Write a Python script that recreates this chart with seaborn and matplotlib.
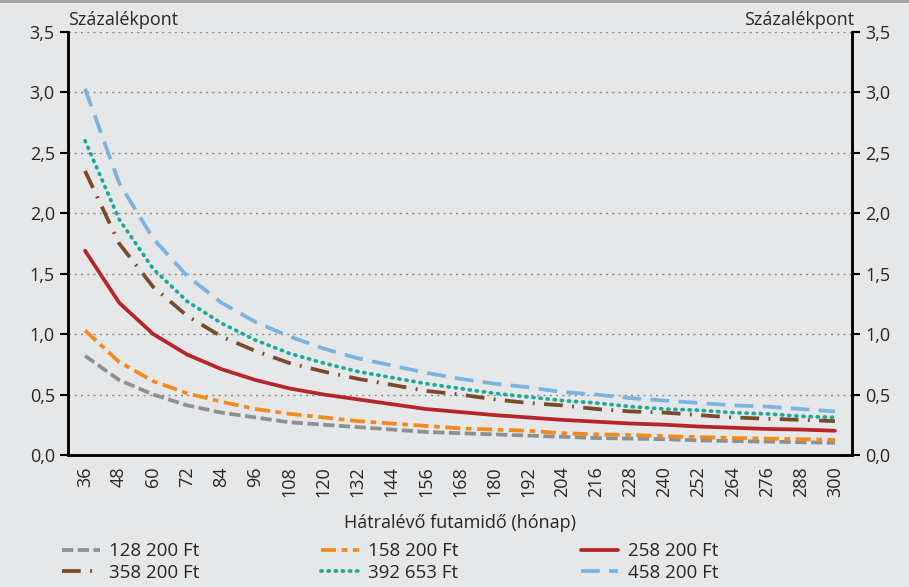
import numpy as np
import pandas as pd
import matplotlib.pyplot as plt
import seaborn as sns

# Hátralévő futamidő (hónap)
honap = list(range(36, 301, 12))

# Százalékpont, sorozatonként
s128 = [0.82, 0.62, 0.50, 0.41, 0.35, 0.31, 0.27, 0.25, 0.23, 0.21, 0.19, 0.18, 0.17,
        0.16, 0.15, 0.14, 0.135, 0.13, 0.12, 0.115, 0.11, 0.105, 0.10]
s158 = [1.03, 0.77, 0.61, 0.51, 0.44, 0.38, 0.34, 0.31, 0.28, 0.26, 0.24, 0.22, 0.21,
        0.20, 0.18, 0.17, 0.165, 0.155, 0.148, 0.14, 0.135, 0.13, 0.125]
s258 = [1.69, 1.26, 1.00, 0.83, 0.71, 0.62, 0.55, 0.50, 0.46, 0.42, 0.38, 0.355, 0.33,
        0.31, 0.29, 0.275, 0.26, 0.25, 0.235, 0.225, 0.215, 0.21, 0.20]
s358 = [2.35, 1.75, 1.39, 1.15, 0.98, 0.86, 0.76, 0.69, 0.63, 0.58, 0.53, 0.50, 0.46,
        0.43, 0.41, 0.38, 0.36, 0.35, 0.33, 0.31, 0.30, 0.29, 0.28]
s392 = [2.60, 1.95, 1.54, 1.27, 1.09, 0.95, 0.84, 0.76, 0.69, 0.64, 0.59, 0.55, 0.51,
        0.48, 0.45, 0.43, 0.40, 0.38, 0.37, 0.35, 0.34, 0.32, 0.31]
s458 = [3.03, 2.25, 1.79, 1.48, 1.26, 1.10, 0.98, 0.88, 0.80, 0.74, 0.68, 0.63, 0.59,
        0.56, 0.52, 0.50, 0.47, 0.45, 0.43, 0.41, 0.40, 0.38, 0.36]

nevek = ["128 200 Ft", "158 200 Ft", "258 200 Ft", "358 200 Ft", "392 653 Ft", "458 200 Ft"]
szinek = ["#8e8f93", "#f28a1c", "#b5252a", "#7a4a2a", "#1aaa98", "#7ab3e0"]
stilusok = [(0, (3, 1.2)), (0, (4, 1.5, 1.5, 1.5)), "-", (0, (5, 2.5, 0.5, 2.5)), (0, (0.3, 1.6)), (0, (5, 2.5))]

bg = "#e6e7e8"
sns.set_theme(style="white")
plt.rcParams["font.family"] = ["Open Sans", "DejaVu Sans"]

fig = plt.figure(figsize=(9.09, 5.87), dpi=100, facecolor=bg)
ax = fig.add_axes([0.0748, 0.225, 0.8625, 0.7205], facecolor=bg)

x = np.arange(len(honap))
for vals, nev, szin, ls in zip([s128, s158, s258, s358, s392, s458], nevek, szinek, stilusok):
    df = pd.DataFrame({"x": x, "y": vals})
    capstyle = "round" if ls == (0, (0.3, 1.6)) else "butt"
    sns.lineplot(data=df, x="x", y="y", ax=ax, color=szin, linewidth=2.7, label=nev,
                 linestyle=ls, dash_capstyle=capstyle)

ax.set_xlim(-0.5, len(honap) - 0.5)
ax.set_ylim(0, 3.5)
yt = np.arange(0, 3.51, 0.5)
ax.set_yticks(yt)
ylab = [f"{v:.1f}".replace(".", ",") for v in yt]
ax.set_yticklabels(ylab, fontsize=13)
ax.set_xticks(x)
ax.set_xticklabels([str(h) for h in honap], rotation=90, fontsize=13)
ax.set_xticks(np.arange(-0.5, len(honap), 1), minor=True)
ax.tick_params(axis="x", which="major", length=0, pad=8)
ax.tick_params(axis="x", which="minor", length=6, width=1.5, color="black", direction="out")
ax.tick_params(axis="y", length=6, width=1.5, color="black", direction="out")
ax.yaxis.grid(True, linestyle=(0, (1.5, 3)), color="#888888", linewidth=1)
ax.set_axisbelow(True)

ax2 = ax.twinx()
ax2.set_ylim(0, 3.5)
ax2.set_yticks(yt)
ax2.set_yticklabels(ylab, fontsize=13)
ax2.tick_params(axis="y", length=6, width=1.5, color="black", direction="out")

for a in (ax, ax2):
    a.spines["top"].set_visible(False)
    for s in ("left", "right", "bottom"):
        a.spines[s].set_color("black")
        a.spines[s].set_linewidth(1.8)

ax.set_xlabel("Hátralévő futamidő (hónap)", fontsize=13, labelpad=12)
ax.set_ylabel("")
fig.text(0.075, 0.95, "Százalékpont", fontsize=13, ha="left", va="bottom")
fig.text(0.94, 0.95, "Százalékpont", fontsize=13, ha="right", va="bottom")

h, l = ax.get_legend_handles_labels()
ax.legend_.remove()
order = [0, 3, 1, 4, 2, 5]
fig.legend([h[i] for i in order], [l[i] for i in order], ncol=3, loc="lower left",
           bbox_to_anchor=(0.05, -0.02), frameon=False, fontsize=13.5, handlelength=2.0,
           columnspacing=6.5, labelspacing=0.2, handletextpad=0.5)

fig.add_artist(plt.Line2D([0, 1], [0.998, 0.998], color="#a0a0a0", linewidth=2))
fig.savefig("out.png", dpi=100, facecolor=bg)
